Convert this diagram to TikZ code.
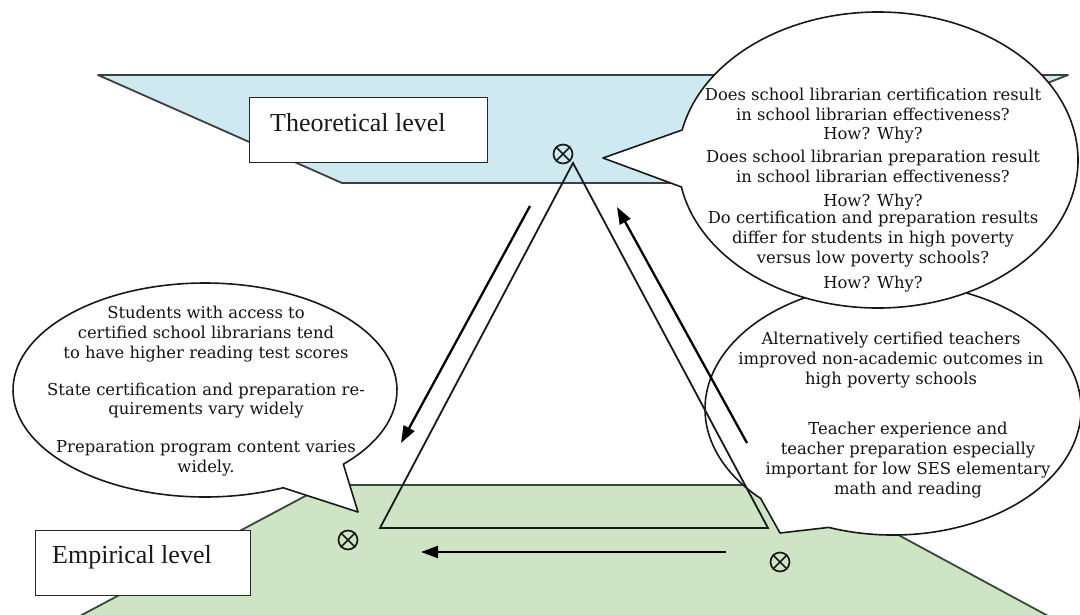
\documentclass[tikz,border=0pt]{standalone}
\usepackage{fontspec}
\setmainfont{Liberation Serif}
\newfontfamily\calloutfont{DejaVu Serif}
\usetikzlibrary{arrows.meta}
\definecolor{theoblue}{RGB}{207,233,240}
\definecolor{empgreen}{RGB}{206,228,196}
\definecolor{edgegray}{RGB}{60,64,64}
\definecolor{edgegreen}{RGB}{58,72,56}
\begin{document}
\begin{tikzpicture}[x=1pt,y=1pt,yscale=-1,
  levelshape/.style={line width=1.8pt, line join=round},
  levelbox/.style={draw=black!85, fill=white, line width=1.2pt, inner sep=0pt, anchor=north west},
  leveltext/.style={font=\fontsize{26}{30}\selectfont, inner sep=0pt, anchor=base west, text=black!90},
  callout/.style={draw=black!90, fill=white, line width=1.6pt, line join=round},
  ctext/.style={font=\calloutfont\fontsize{16.4}{20}\selectfont, align=center, inner sep=0pt, anchor=north, text=black!92},
  triline/.style={draw=black!90, line width=1.8pt, line join=miter},
  flow/.style={draw=black, line width=2.3pt, -{Triangle[length=17pt,width=12pt]}},
  otimes/.style={circle, draw=black!90, line width=1.7pt, minimum size=19pt, inner sep=0pt}
]
\path[use as bounding box, fill=white] (0,0) rectangle (1080,614);

% levels
\filldraw[levelshape, fill=theoblue, draw=edgegray] (98,75) -- (1068,75) -- (790,183) -- (342,183) -- cycle;
\filldraw[levelshape, fill=empgreen, draw=edgegreen] (326,485) -- (806,485) -- (1050,617) -- (78,617) -- cycle;

\node[levelbox, minimum width=238pt, minimum height=65pt] (theobox) at (249,97) {};
\node[leveltext] (theotext) at (270,131) {Theoretical level};
\node[levelbox, minimum width=215pt, minimum height=65pt] (empbox) at (35,530) {};
\node[leveltext] (emptext) at (52,563) {Empirical level};

% callouts
\draw[callout] (358,512) -- ({205+192*cos(43.9)},{390+107*sin(43.9)})
   arc[start angle=43.9, end angle=-294, x radius=192, y radius=107] -- cycle;
\draw[callout] (780,533) -- ({893+188*cos(110)},{409+126*sin(110)})
   arc[start angle=110, end angle=-225.3, x radius=188, y radius=126] -- cycle;
\draw[callout] (603,158) -- ({878+200*cos(169.5)},{160+148*sin(169.5)})
   arc[start angle=169.5, end angle=-168.3, x radius=200, y radius=148] -- cycle;

% triangle
\coordinate (apex) at (573,163);
\coordinate (bl) at (380,528);
\coordinate (br) at (768,528);
\draw[triline] (apex) -- (bl) -- (br) -- cycle;

% arrows
\coordinate (a1s) at (530,206);
\coordinate (a1e) at (401,443);
\coordinate (a2s) at (747,443);
\coordinate (a2e) at (617,207);
\coordinate (a3s) at (726,552);
\coordinate (a3e) at (421,552);
\draw[flow] (a1s) -- (a1e);
\draw[flow] (a2s) -- (a2e);
\draw[flow] (a3s) -- (a3e);

% crossed circles
\node[otimes] (xt) at (563,154) {};
\node[otimes] (xl) at (348,540) {};
\node[otimes] (xr) at (780,562) {};
\foreach \n in {xt,xl,xr}{
  \draw[line width=1.7pt, draw=black!90] (\n.north west) -- (\n.south east) (\n.north east) -- (\n.south west);
}

% texts
\node[ctext] (qtext) at (873,88) {Does school librarian certification result\\
 in school librarian effectiveness?\\[-1.5pt]
 How? Why?\\[3pt]
 Does school librarian preparation result\\
 in school librarian effectiveness?\\[4pt]
 How? Why?\\[-2.5pt]
 Do certification and preparation results\\
 differ for students in high poverty\\
 versus low poverty schools?\\[5pt]
 How? Why?};
\node[ctext, font=\calloutfont\fontsize{16.4}{19.7}\selectfont] (ltext) at (206,306) {Students with access to\\
 certified school librarians tend\\
 to have higher reading test scores\\[17.5pt]
 State certification and preparation re-\\
 quirements vary widely\\[18pt]
 Preparation program content varies\\
 widely.};
\node[ctext, font=\calloutfont\fontsize{16.4}{19.7}\selectfont] (rtext1) at (891,332) {Alternatively certified teachers\\
 improved non-academic outcomes in\\
 high poverty schools};
\node[ctext] (rtext2) at (908,422) {Teacher experience and\\
 teacher preparation especially\\
 important for low SES elementary\\
 math and reading};
\end{tikzpicture}
\end{document}
